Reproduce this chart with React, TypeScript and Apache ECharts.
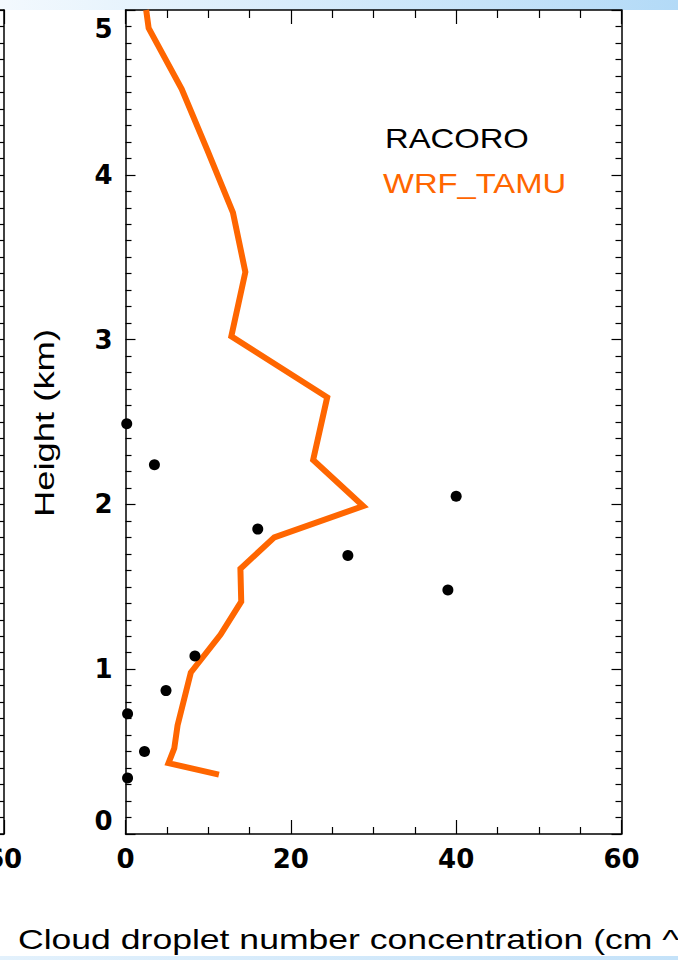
import React, { useEffect, useRef } from "react";
import * as echarts from "echarts";

// Tick labels
const xTickValues = [0, 20, 40, 60];
const yTickValues = [0, 1, 2, 3, 4, 5];

// RACORO observations (cm^-3, km)
const racoroConc = [0.15, 3.5, 40.0, 16.0, 26.9, 39.0, 8.4, 4.9, 0.25, 2.3, 0.25];
const racoroHeight = [2.49, 2.24, 2.05, 1.85, 1.69, 1.48, 1.08, 0.87, 0.73, 0.5, 0.34];

// WRF_TAMU profile (cm^-3, km)
const wrfConc = [11.3, 5.2, 5.9, 6.3, 7.9, 11.5, 14.0, 13.9, 18.0, 28.75, 22.7, 24.4, 12.8, 14.5, 13.0, 9.9, 6.8, 2.8, 2.5];
const wrfHeight = [0.36, 0.43, 0.52, 0.66, 0.98, 1.21, 1.41, 1.61, 1.8, 1.99, 2.27, 2.65, 3.02, 3.41, 3.77, 4.15, 4.52, 4.89, 5.0];

const seriesNames = ["RACORO", "WRF_TAMU"];
const seriesColors = ["#000000", "#ff6600"];
const xTitle = "Cloud droplet number concentration (cm ^-3)";
const yTitle = "Height (km)";

export default function App() {
  const ref = useRef<HTMLDivElement>(null);
  useEffect(() => {
    document.body.style.margin = "0";
    const chart = echarts.init(ref.current!, null, { renderer: "svg" });
    const tickFont = {
      fontFamily: "DejaVu Sans",
      fontWeight: "bold" as const,
      fontSize: 26,
      color: "#000",
    };
    const line = { show: true, onZero: false, lineStyle: { color: "#000", width: 1.5 } };
    const xBase = (gridIndex: number, position: string, labels: boolean, majorLen: number, minorLen: number) => ({
      type: "value",
      gridIndex,
      position,
      min: xTickValues[0],
      max: xTickValues[xTickValues.length - 1],
      interval: 20,
      axisLine: line,
      axisTick: { show: true, inside: true, length: majorLen, lineStyle: { color: "#000", width: 1.2 } },
      minorTick: { show: true, splitNumber: 4, length: minorLen, lineStyle: { color: "#000", width: 1.2 } },
      splitLine: { show: false },
      axisLabel: labels ? { ...tickFont, margin: 12 } : { show: false },
    });
    const yBase = (gridIndex: number, position: string, labels: boolean) => ({
      type: "value",
      gridIndex,
      position,
      min: yTickValues[0],
      max: yTickValues[yTickValues.length - 1],
      interval: 1,
      axisLine: line,
      axisTick: { show: true, inside: true, length: 10, lineStyle: { color: "#000", width: 1.2 } },
      minorTick: { show: true, splitNumber: 10, length: 6, lineStyle: { color: "#000", width: 1.2 } },
      splitLine: { show: false },
      axisLabel: labels
        ? {
            ...tickFont,
            margin: 13,
            verticalAlignMinLabel: "bottom",
            verticalAlignMaxLabel: "top",
            formatter: (v: number) => (v === yTickValues[yTickValues.length - 1] ? `{top|${v}}` : `${v}`),
            rich: { top: { ...tickFont, padding: [6, 0, 0, 0] } },
          }
        : { show: false },
    });

    chart.setOption({
      animation: false,
      backgroundColor: "#ffffff",
      grid: [
        { left: 125.5, top: 10, width: 496, height: 824, outerBoundsMode: "none", containLabel: false },
        { left: -492, top: 10, width: 496, height: 824, outerBoundsMode: "none", containLabel: false },
      ],
      xAxis: [
        xBase(0, "bottom", true, 14, 7),
        xBase(0, "top", false, 14, 8),
        xBase(1, "bottom", true, 14, 7),
        xBase(1, "top", false, 14, 8),
      ],
      yAxis: [yBase(0, "left", true), yBase(0, "right", false), yBase(1, "right", false)],
      graphic: [
        {
          type: "rect",
          shape: { x: 0, y: 0, width: 678, height: 10 },
          style: {
            fill: new echarts.graphic.LinearGradient(0, 0, 1, 0, [
              { offset: 0, color: "#f3f9fe" },
              { offset: 1, color: "#b3daf7" },
            ]),
          },
          silent: true,
        },
        {
          type: "rect",
          shape: { x: 0, y: 956, width: 678, height: 4 },
          style: {
            fill: new echarts.graphic.LinearGradient(0, 0, 1, 0, [
              { offset: 0, color: "#e3f1fc" },
              { offset: 1, color: "#c4e2f9" },
            ]),
          },
          silent: true,
        },
        {
          type: "text",
          x: 385,
          y: 138,
          scaleX: 1.17,
          style: {
            text: seriesNames[0],
            fill: seriesColors[0],
            font: '28px "Liberation Sans", Arial, sans-serif',
            textAlign: "left",
            textVerticalAlign: "middle",
          },
        },
        {
          type: "text",
          x: 383,
          y: 183,
          scaleX: 1.17,
          style: {
            text: seriesNames[1],
            fill: seriesColors[1],
            font: '28px "Liberation Sans", Arial, sans-serif',
            textAlign: "left",
            textVerticalAlign: "middle",
          },
        },
        {
          type: "text",
          x: 18,
          y: 939,
          scaleX: 1.27,
          style: {
            text: xTitle,
            fill: "#000",
            font: '28px "Liberation Sans", Arial, sans-serif',
            textAlign: "left",
            textVerticalAlign: "middle",
          },
        },
        {
          type: "text",
          x: 45,
          y: 423,
          rotation: Math.PI / 2,
          scaleX: 1.3,
          style: {
            text: yTitle,
            fill: "#000",
            font: '28px "Liberation Sans", Arial, sans-serif',
            textAlign: "center",
            textVerticalAlign: "middle",
          },
        },
      ],
      series: [
        {
          name: seriesNames[0],
          type: "scatter",
          xAxisIndex: 0,
          yAxisIndex: 0,
          symbol: "circle",
          symbolSize: 11,
          itemStyle: { color: seriesColors[0], opacity: 1 },
          data: racoroConc.map((c, i) => [c, racoroHeight[i]]),
          z: 3,
        },
        {
          name: seriesNames[1],
          type: "line",
          xAxisIndex: 0,
          yAxisIndex: 0,
          showSymbol: false,
          symbol: "none",
          lineStyle: { color: seriesColors[1], width: 6, join: "miter" },
          data: wrfConc.map((c, i) => [c, wrfHeight[i]]),
          z: 2,
        },
      ],
    });
    return () => chart.dispose();
  }, []);
  return <div ref={ref} style={{ width: 678, height: 960 }} />;
}
